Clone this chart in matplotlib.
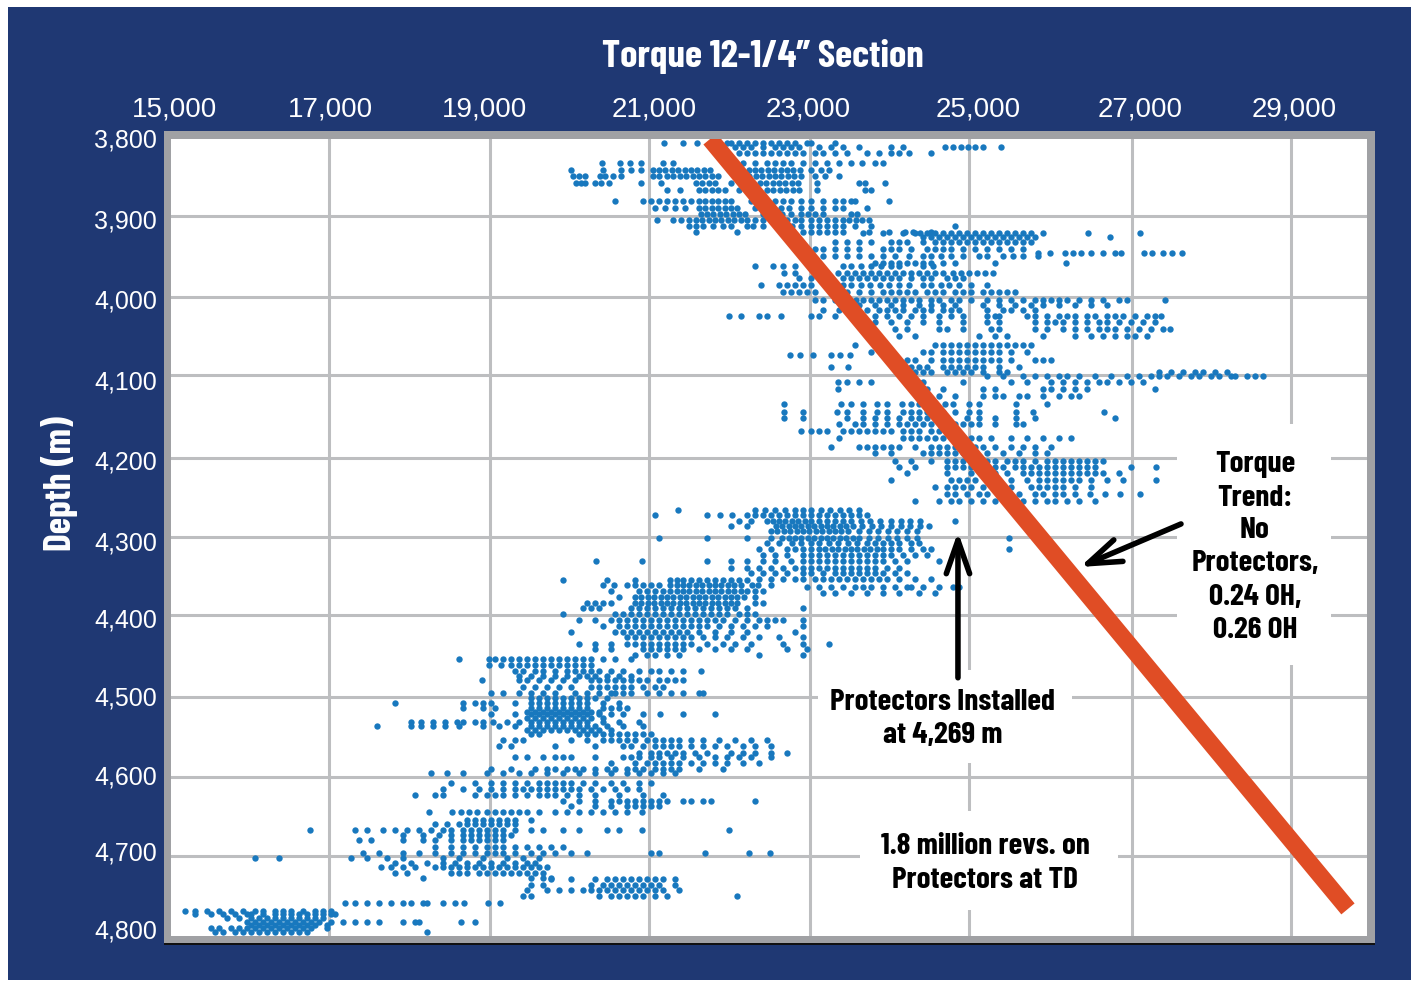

import matplotlib

matplotlib.use("Agg")
import matplotlib.pyplot as plt  # noqa: E402
from matplotlib.patches import Rectangle  # noqa: E402
from matplotlib.transforms import ScaledTranslation  # noqa: E402

X_TICKS = [15000, 16975, 18988, 20975, 22988, 24975, 27012, 29000]
X_LABELS = ["15,000", "17,000", "19,000", "21,000", "23,000", "25,000", "27,000", "29,000"]
Y_TICKS = [3800, 3897, 3998, 4096, 4200, 4299, 4397, 4500, 4600, 4700, 4800]
Y_LABELS = ["3,800", "3,900", "4,000", "4,100", "4,200", "4,300", "4,400", "4,500", "4,600", "4,700", "4,800"]

TREND_TORQUE = [21738, 29712]
TREND_DEPTH = [3800, 4766]

# Each band: one list of depths, one list of torque rows read at those depths.
TOP_DEPTHS = [3805, 3810, 3818, 3830, 3839, 3846, 3855, 3864, 3878, 3887, 3894, 3902, 3909, 3917]
TOP_TORQUES = [
    [21160, 21400, 21575, 21950, 22000, 22100, 22200, 22300, 22400, 22500, 22600, 22700, 22800, 22950, 23000, 23300],
    [22050, 22150, 22250, 22400, 22550, 22650, 22750, 22850, 23100, 23250, 23400, 23600, 24000, 24150, 24680, 24780, 24870, 24960, 25050, 25150, 25370],
    [22100, 22200, 22300, 22400, 22500, 22600, 22700, 22800, 22900, 23050, 23150, 23300, 23450, 23700, 23850, 24000, 24100, 24230, 24500],
    [20390, 20610, 20740, 20870, 21150, 21280, 22050, 22150, 22300, 22450, 22550, 22650, 22750, 22900, 23050, 23200, 23350, 23500, 23640, 23800, 23900],
    [20000, 20400, 20620, 20750, 20880, 21030, 21100, 21180, 21260, 21340, 21420, 21500, 21580, 21660, 21740, 21980, 22060, 22140, 22220, 22300, 22380, 22460, 22540, 22620, 22700, 22780, 22860, 23000, 23120, 23220],
    [20030, 20100, 20170, 20360, 20430, 20520, 20620, 21030, 21100, 21200, 21280, 21360, 21440, 21520, 21600, 21680, 21760, 21840, 22150, 22230, 22310, 22390, 22470, 22550, 22630, 22710, 22790, 22870, 23050, 23180, 23350],
    [20060, 20120, 20180, 20300, 20380, 20470, 20880, 21130, 21560, 21640, 21720, 21800, 22000, 22280, 22360, 22440, 22520, 22600, 22680, 22760, 22840, 23080, 23600, 23670, 23920],
    [21200, 21360, 21600, 21680, 21760, 21840, 21920, 22100, 22300, 22450, 22530, 22610, 22690, 22770, 22850, 23080, 23670, 23750],
    [20550, 20900, 21000, 21100, 21200, 21300, 21400, 21500, 21600, 21680, 21760, 21840, 21920, 22000, 22250, 22450, 22550, 22650, 22750, 22880, 23000, 23150, 23300, 23400, 23500, 23550, 23980],
    [21050, 21180, 21300, 21420, 21600, 21680, 21760, 21840, 21920, 22000, 22080, 22300, 22500, 22620, 22720, 22880, 23000, 23150, 23300, 23400, 23700],
    [21620, 21700, 21780, 21860, 21940, 22020, 22100, 22180, 22400, 22640, 22750, 22880, 22960, 23050, 23150, 23500, 23580],
    [21080, 21280, 21380, 21480, 21560, 21640, 21720, 21800, 21880, 21960, 22040, 22120, 22200, 22300, 22400, 22500, 22600, 22700, 22800, 22880, 23000, 23100, 23200, 23300, 23400, 23480, 23560, 23640, 23720],
    [21480, 21560, 21650, 21780, 21900, 22000, 22200, 22280, 22400, 22640, 22760, 22880, 23000, 23100, 23200, 23300, 23400, 23550, 23750, 24800],
    [21560, 22080, 22680, 22780, 22900, 23000, 23100, 23200, 23300, 23400, 23720, 23980, 24180, 24280, 24500],
]

UPPER_DEPTHS = [3918, 3923, 3929, 3938, 3943, 3947, 3955, 3959, 3968, 3975, 3983, 3992, 4002, 4008, 4014, 4022, 4030, 4038, 4047, 4058, 4067, 4071, 4077, 4086, 4092, 4097]
UPPER_TORQUES = [
    [23650, 23900, 24150, 24300, 24360, 24450, 24550, 24650, 24750, 24850, 24950, 25050, 25150, 25250, 25350, 25450, 25550, 25650, 25750, 25900, 26460, 27110],
    [24400, 24500, 24600, 24700, 24800, 24900, 25000, 25100, 25200, 25300, 25400, 25500, 25600, 25700, 25800, 26740],
    [23300, 23450, 23600, 23750, 24000, 24100, 24200, 24400, 24550, 24650, 24750, 24850, 24950, 25050, 25150, 25250, 25350, 25450, 25550, 25650, 25750],
    [23050, 23150, 23300, 23450, 23600, 23900, 24000, 24100, 24250, 24450, 24550, 24650, 24750, 24900, 25050, 25200, 25350, 25500, 25650],
    [25840, 25990, 26180, 26270, 26370, 26500, 26650, 26800, 26870, 27160, 27260, 27400, 27510, 27640],
    [23150, 23300, 23450, 23600, 23750, 23900, 24050, 24230, 24400, 24500, 24620, 24750, 24900, 25100, 25200, 25400, 25520, 25650, 25840],
    [23800, 23900, 24000, 24100, 24200, 24300, 24400, 24500, 24650, 24800, 25300, 26190],
    [22300, 22530, 22650, 22800, 23400, 23500, 23620, 23750, 23880, 24000, 24100, 24400, 24520],
    [22660, 22800, 23340, 23450, 23550, 23650, 23750, 23850, 23950, 24050, 24150, 24250, 24350, 24450, 24550, 24650, 24780, 24880, 24980, 25080, 25180, 25280],
    [22850, 23000, 23400, 23500, 23600, 23700, 23800, 23900, 24000, 24100, 24250, 24400, 24500, 24700, 24800, 24900],
    [22380, 22600, 22700, 22800, 22900, 23000, 23400, 23500, 23620, 23740, 23860, 23980, 24100, 24220, 24400, 24500, 24620, 24720, 24850, 25000, 25200],
    [22650, 22750, 22850, 22950, 23050, 23300, 23450, 23600, 23750, 23900, 24000, 24100, 24200, 24300, 24450, 24550, 24650, 24800, 24900, 25000, 25150, 25250, 25350, 25450, 25550],
    [23050, 23150, 23300, 23560, 23650, 23750, 23850, 23950, 24050, 24150, 24250, 24350, 24500, 24600, 24750, 24850, 25000, 25200, 25350, 25500, 25650, 25800, 25900, 26000, 26100, 26200, 26350, 26500, 26650, 26850, 26950, 27420],
    [23400, 23600, 23800, 24000, 24150, 24350, 24500, 24650, 24800, 25150, 25350, 25550, 25750, 25900, 26100, 26300, 26500, 26700],
    [23150, 23350, 23500, 23700, 23850, 23950, 24050, 24150, 24300, 24400, 24500, 24650, 24750, 24850, 25200, 25400, 25500, 25650, 25800],
    [21980, 22130, 22350, 22450, 22620, 23000, 23100, 23300, 23600, 23800, 23950, 24100, 24250, 24400, 24600, 24750, 24900, 25200, 25300, 25350, 25700, 25800, 25950, 26100, 26200, 26300, 26450, 26550, 26700, 26800, 26900, 27050, 27200, 27300, 27380],
    [23800, 24000, 24200, 24400, 24600, 24900, 25200, 25350, 25800, 25950, 26050, 26150, 26300, 26450, 26600, 26700, 26850, 27000, 27150, 27300],
    [24050, 24200, 24600, 24700, 24900, 25250, 25350, 25800, 25950, 26150, 26300, 26450, 26600, 26700, 26800, 26950, 27100, 27250, 27400, 27490],
    [24100, 24300, 25100, 25300, 25450, 25900, 26300, 26500, 26650, 26800, 26950, 27050, 27200],
    [23550, 24550, 24650, 24750, 24850, 24950, 25050, 25150, 25250, 25350, 25450, 25550, 25650, 25750],
    [23750, 24400, 24500, 24650, 24750, 24850, 24950, 25050, 25150, 25250, 25350, 25500, 25700],
    [22740, 22860, 23030, 23250, 23360, 23490],
    [24200, 24300, 24500, 24650, 24750, 24850, 24950, 25050, 25150, 25250, 25350, 25500, 25800, 25900, 26000],
    [23250, 23460, 24150, 24250, 24350, 24450, 24650, 24750, 24850, 24950, 25050, 25150, 25350, 25600],
    [24300, 24400, 24500, 24700, 24800, 24900, 25000, 25150, 25350, 25450, 27350, 27500, 27650, 27800, 27900, 28050, 28200],
    [25200, 25400, 25650, 25800, 25950, 26100, 26200, 26350, 26550, 26750, 26950, 27100, 27250, 27350, 27450, 27600, 27750, 27850, 28000, 28100, 28250, 28300, 28450, 28550, 28650],
]

MIDDLE_DEPTHS = [4105, 4114, 4122, 4133, 4142, 4150, 4158, 4166, 4175, 4186, 4194, 4204, 4212, 4219, 4228, 4237, 4245, 4254]
MIDDLE_TORQUES = [
    [23340, 23450, 23600, 23750, 24300, 24400, 24900, 25500, 25700, 26000, 26150, 26300, 26450, 26600, 26700, 26850, 27000, 27150],
    [23340, 24350, 24450, 24650, 25150, 25300, 25900, 26000, 26150, 26300, 26450, 27300],
    [24600, 24800, 25150, 25300, 25400, 25600, 25700, 25900, 26100, 26250, 26350],
    [22660, 23370, 23500, 23650, 23820, 23950, 24140, 24250, 24350, 24450, 24550, 24680, 24780, 24980, 25100, 25560, 25950],
    [22660, 22900, 23330, 23450, 23650, 23820, 23950, 24150, 24250, 24350, 24450, 24550, 24650, 24800, 24980, 25100, 25560, 25770, 26660],
    [22660, 22900, 23450, 23650, 23800, 23950, 24100, 24250, 24350, 24450, 24600, 24700, 24950, 25100, 25300, 25560, 25800, 26800],
    [23350, 23550, 23650, 23800, 23950, 24100, 24200, 24300, 24400, 24500, 24650, 24800, 24900, 25000, 25100, 25300, 25560, 25650],
    [22880, 23000, 23100, 23200, 23400, 23500, 23600, 23700, 23800, 23900, 24000, 24150, 24250, 24350, 24500, 24600, 24700, 24800],
    [23350, 24150, 24250, 24350, 24450, 24550, 24650, 24750, 24900, 25000, 25100, 25250, 25500, 25700, 25900, 26100, 26250],
    [23250, 23600, 23700, 23800, 23900, 24000, 24100, 24300, 24500, 24600, 24700, 24800, 24900, 25050, 25150, 25300, 25500, 25650, 25800, 26000],
    [23800, 24000, 24400, 24500, 24600, 24700, 24800, 24900, 25000, 25200, 25400, 25600, 25800, 25950],
    [24050, 24250, 24500, 24700, 24800, 24900, 25000, 25100, 25200, 25300, 25450, 25550, 25650, 25800, 25950, 26050, 26150, 26250, 26350, 26450, 26550, 26650],
    [24100, 24300, 24700, 24800, 24900, 25000, 25100, 25200, 25300, 25400, 25550, 25650, 25750, 25850, 25950, 26050, 26150, 26250, 26350, 26450, 26550, 27000, 27310],
    [24200, 24700, 25000, 25150, 25300, 25450, 25650, 25750, 25850, 25950, 26050, 26150, 26250, 26350, 26450, 26550, 26650, 26850],
    [24000, 24750, 24850, 24950, 25050, 25200, 25350, 25500, 25700, 25850, 25950, 26050, 26150, 26250, 26350, 26500, 26700, 26900, 27310],
    [24550, 24700, 24800, 24900, 25000, 25150, 25300, 25500, 25750, 25850, 25950, 26050, 26150, 26300, 26500],
    [24700, 24800, 24950, 25100, 25200, 25400, 25600, 25800, 25900, 26050, 26150, 26300, 26490, 26680, 26860, 27110],
    [24300, 24600, 24750, 24850, 25000, 25150, 25300, 25450, 25650, 25800, 25950, 26050, 26200, 26350, 26550],
]

BREAK_DEPTHS = [4265, 4272, 4279, 4285, 4292, 4300, 4307, 4314, 4322, 4330, 4338, 4345, 4352, 4362, 4370]
BREAK_TORQUES = [
    [21340, 22300, 22420, 22550, 22680, 22800, 22900, 23000, 23120, 23240, 23360, 23480, 23600],
    [21050, 21700, 21860, 22010, 22200, 22300, 22400, 22500, 22600, 22700, 22800, 22900, 23000, 23100, 23200, 23300, 23400, 23500, 23600, 23700],
    [22100, 22250, 22450, 22520, 22600, 22680, 22760, 22840, 22920, 23000, 23100, 23200, 23300, 23400, 23500, 23620, 23740, 23860, 24000, 24120, 24240, 24360, 24800],
    [22000, 22200, 22560, 22640, 22720, 22800, 22880, 22960, 23040, 23120, 23200, 23280, 23360, 23440, 23520, 23640, 23760, 23880, 24000, 24120, 24240, 24360, 24480],
    [22500, 22580, 22660, 22740, 22820, 22900, 22980, 23060, 23140, 23220, 23300, 23380, 23460, 23600, 23720, 23840, 23960, 24080, 24200, 24320],
    [21100, 21700, 22200, 22500, 22640, 22720, 22800, 22880, 22960, 23040, 23120, 23200, 23280, 23360, 23440, 23520, 23600, 23720, 23840, 23960, 24080, 24200, 24320, 25480],
    [22450, 22600, 22760, 22880, 23000, 23100, 23220, 23340, 23460, 23580, 23700, 23800, 23900, 24000, 24100, 24250, 24350],
    [22350, 22500, 22700, 22800, 22900, 23000, 23100, 23180, 23260, 23340, 23420, 23500, 23580, 23660, 23740, 23820, 23900, 24000, 24100, 24250, 24400, 24500, 25480],
    [22400, 22550, 22700, 22900, 23000, 23100, 23200, 23300, 23400, 23500, 23600, 23700, 23800, 23900, 24000, 24150, 24300, 24450],
    [20310, 20890, 21700, 22000, 22200, 22400, 22550, 22750, 22900, 23000, 23100, 23200, 23300, 23400, 23500, 23600, 23700, 23800, 23900, 24050, 24200, 24600],
    [22000, 22200, 22350, 22500, 22650, 22800, 22900, 23000, 23100, 23200, 23300, 23400, 23500, 23600, 23700, 23800, 23950, 24100],
    [22250, 22400, 22550, 22700, 22900, 23000, 23150, 23300, 23400, 23500, 23600, 23700, 23800, 23900, 24050, 24200],
    [22350, 22500, 22650, 22800, 22900, 23050, 23150, 23250, 23350, 23450, 23550, 23650, 23750, 23850, 23950, 24100, 24300, 24500],
    [22950, 23100, 23250, 23400, 23550, 23650, 23750, 23900, 24050, 24200, 24250, 24400, 24600, 24770, 24850],
    [23150, 23300, 23500, 23700, 23900, 24100, 24350, 24550],
]

LOWER_DEPTHS = [4353, 4360, 4367, 4375, 4382, 4389, 4396, 4404, 4411, 4418, 4425, 4433, 4440, 4447]
LOWER_TORQUES = [
    [19900, 20450, 20800, 21240, 21320, 21400, 21500, 21600, 21700, 21800, 21900, 22000, 22100, 22200],
    [20400, 20540, 20700, 20800, 20900, 21000, 21100, 21240, 21320, 21400, 21480, 21560, 21640, 21720, 21800, 21880, 21960, 22040, 22120, 22260, 22340, 22500],
    [20500, 20850, 20950, 21050, 21150, 21240, 21320, 21400, 21480, 21560, 21640, 21720, 21800, 21880, 21960, 22040, 22120, 22200, 22300, 22400],
    [20600, 20800, 20880, 20960, 21040, 21120, 21200, 21280, 21360, 21440, 21520, 21600, 21680, 21760, 21840, 21920, 22000, 22080, 22160, 22300],
    [20200, 20300, 20400, 20500, 20800, 20880, 20960, 21040, 21120, 21200, 21280, 21360, 21440, 21520, 21600, 21680, 21760, 21840, 21920, 22000, 22080, 22300, 22400],
    [20150, 20250, 20350, 20750, 20850, 20950, 21050, 21150, 21250, 21350, 21450, 21550, 21650, 21750, 21850, 21950, 22050, 22200, 22900],
    [19900, 20550, 20650, 20750, 20850, 20950, 21050, 21150, 21250, 21350, 21450, 21550, 21650, 21750, 21850, 21950, 22100, 22200, 22300],
    [20100, 20300, 20500, 20600, 20700, 20800, 20900, 21000, 21100, 21200, 21300, 21400, 21500, 21600, 21700, 21800, 21900, 22050, 22200, 22350, 22450, 22550, 22650, 22900],
    [20400, 20600, 20700, 20800, 20900, 21000, 21100, 21200, 21300, 21400, 21500, 21600, 21700, 21850, 22000, 22150, 22300, 22450, 22900],
    [20000, 20550, 20650, 20750, 20850, 20950, 21050, 21150, 21250, 21350, 21450, 21600, 21800, 22000, 22200, 22800],
    [20700, 20800, 20900, 21000, 21100, 21200, 21300, 21400, 21500, 21650, 21800, 21950, 22150, 22350, 22600, 22900],
    [20100, 20300, 20500, 20700, 20800, 20900, 21000, 21100, 21200, 21300, 21400, 21500, 21700, 21900, 22050, 22250, 22650, 22900, 23220],
    [20300, 20500, 20900, 21000, 21100, 21200, 21300, 21400, 21600, 21800, 22000, 22200, 22700, 22950],
    [20800, 20950, 21050, 21200, 21350, 22350, 22900],
]

MID_LOW_DEPTHS = [4452, 4460, 4468, 4474, 4479, 4487, 4495, 4502, 4508, 4514, 4519, 4522, 4526, 4531, 4537, 4542, 4546, 4554, 4562, 4571, 4575, 4583, 4590, 4596]
MID_LOW_TORQUES = [
    [18970, 19050, 19150, 19250, 19350, 19450, 19550, 19650, 19750, 19850, 19950, 20050, 20150, 20250, 20400, 20550, 20750, 18600],
    [18970, 19130, 19250, 19350, 19450, 19550, 19650, 19750, 19850, 19950, 20050, 20150, 20250],
    [19300, 19400, 19550, 19650, 19800, 19950, 20050, 20150, 20250, 20350, 20500, 20650, 20850, 21000, 21100, 21250, 21400, 21630],
    [19350, 19500, 19650, 19800, 19950, 20100, 20200, 20300, 20450, 20600, 20750],
    [18890, 19350, 19450, 19600, 19750, 19900, 20050, 20250, 20350, 20450, 20550, 20650, 20750, 20850, 20950, 21100, 21200, 21300, 21400],
    [19400, 19550, 19700, 19850, 20000, 20250, 20350, 20450, 20550, 20650, 20750, 20900, 21050, 21150],
    [19000, 19150, 19350, 19500, 19650, 19800, 20050, 20200, 20350, 20500, 20550, 20650, 20750, 20950, 21100, 21250, 21400, 21600, 21650],
    [19500, 19600, 19700, 19800, 19900, 20000, 20100, 20200, 20300, 20450],
    [17800, 18650, 18800, 18900, 19000, 19300, 19500, 19600, 19700, 19800, 19900, 20000, 20100, 20200, 20400, 20600],
    [18650, 18900, 19050, 19500, 19600, 19700, 19800, 19900, 20000, 20100, 20200, 20400, 20500, 20600, 20700],
    [19450, 19550, 19650, 19750, 19850, 19950, 20050, 20150, 20250, 20350],
    [19000, 19300, 19500, 19600, 19700, 19800, 19900, 20000, 20100, 20200, 20350, 20500, 20650, 20900, 21110, 21400, 21800],
    [19450, 19550, 19650, 19750, 19850, 19950, 20050, 20150, 20250, 20400],
    [18000, 18130, 18270, 18430, 18570, 18650, 18800, 18900, 19030, 19200, 19350, 19500, 19600, 19700, 19800, 19900, 20000, 20100, 20200, 20400, 20600, 20850],
    [17570, 18000, 18130, 18270, 18430, 18600, 18900, 19100, 19300, 19500, 19600, 19700, 19800, 19900, 20000, 20100, 20200, 20300, 20450, 20650, 20900],
    [19450, 19550, 19650, 19750, 19850, 19950, 20050, 20150, 20250, 20350, 20500],
    [19500, 19600, 20100, 20200, 20300, 20400, 20500, 20600, 20700, 20800, 20900, 21000],
    [19150, 19300, 19400, 20000, 20200, 20400, 20500, 20600, 20700, 20800, 20950, 21050, 21150, 21250, 21350, 21500, 21650, 21850, 22050, 22250, 22450],
    [19100, 19250, 19800, 20300, 20650, 20750, 20900, 21050, 21150, 21250, 21350, 21500, 21650, 21800, 21950, 22150, 22300, 22500],
    [20850, 21000, 21100, 21200, 21300, 21400, 21550, 21700, 22000, 22150, 22300, 22500, 22700],
    [19300, 19450, 19650, 19800, 19900, 20000, 20300, 20650, 20750, 20850, 21000, 21100, 21250, 21400, 21600, 21800, 21950, 22100, 22250, 22500],
    [20500, 20800, 20950, 21050, 21150, 21250, 21350, 21500, 21650, 21800, 21950, 22150, 22350],
    [19000, 19250, 19550, 19700, 19800, 19950, 20050, 20150, 20300, 20450, 20550, 20700, 20800, 20900, 21050, 21150, 21250, 21350, 21600, 21900],
    [18250, 18450, 18650, 18950, 19150, 19350, 19500, 19700, 19900, 20100, 20300, 20500, 20700, 20850, 21000, 21150, 21300],
]

DEEP_DEPTHS = [4608, 4616, 4623, 4631, 4637, 4645, 4654, 4660, 4667, 4673, 4679, 4688, 4696, 4702, 4708, 4713, 4721, 4727]
DEEP_TORQUES = [
    [18500, 18800, 19000, 19150, 19300, 19450, 19600, 19700, 19800, 19900, 20000, 20150, 20300, 20500, 20650, 20850, 21000],
    [18400, 18650, 18850, 19000, 19150, 19300, 19400, 19500, 19600, 19700, 19800, 19900, 20000, 20100, 20250, 20400, 20550, 20700, 20850],
    [18050, 18300, 18400, 18800, 18950, 19050, 19150, 19300, 19450, 19600, 19700, 19800, 19950, 20100, 20300, 20600, 20900, 21150],
    [19900, 20100, 20300, 20500, 20600, 20700, 20800, 20900, 21000, 21100, 21200, 21400, 21500, 21650, 21750, 22300],
    [20000, 20300, 20500, 20700, 20800, 20900, 21000, 21100],
    [18220, 18517, 18620, 18720, 18820, 18950, 19050, 19150, 19250, 19350, 19450, 19600, 19800, 19950, 20100, 20250, 20400, 20550, 20700, 20890],
    [18700, 18800, 18900, 19000, 19100, 19200, 19300, 19500],
    [18300, 18450, 18600, 18700, 18800, 18900, 19000, 19100, 19200, 19300],
    [16740, 17300, 17450, 17650, 17800, 17950, 18100, 18250, 18400, 18500, 18650, 18750, 18850, 18950, 19050, 19150, 19300, 19500, 19650, 19900, 20100, 20450, 20600, 20890, 21975],
    [17900, 18150, 18350, 18500, 18650, 18750, 18850, 18950, 19050, 19150, 19250],
    [17350, 17500, 17900, 18150, 18300, 18500, 18650, 18750, 18850, 18950, 19050, 19150],
    [18300, 18500, 18650, 18800, 18950, 19050, 19150, 19300, 19450, 19600, 19750, 19900],
    [17400, 17600, 17900, 18100, 18300, 18500, 18650, 18800, 18950, 19050, 19150, 19300, 19500, 19650, 19800, 20000, 20200, 21000, 21100, 21680, 22220, 22490],
    [16050, 16350, 17250, 17450, 17700, 17900, 18400, 18600, 18900, 19200, 19400, 19600],
    [17800, 18000, 18200, 18400, 18550, 18700, 18850, 19000, 19150, 19300, 19450, 19550],
    [17630, 17750, 17900, 18050, 18300, 18400, 18500, 18600, 18700, 18800, 18900, 19000, 19100, 19200, 19300, 19400, 19500, 19600, 19700],
    [17800, 17950, 18500, 18600, 18700, 18850, 18950, 19050, 19150, 19250, 19350, 19450, 19550, 19650],
    [18150, 19500, 19650, 19750],
]

BOTTOM_DEPTHS = [4729, 4736, 4742, 4750, 4759, 4769, 4773, 4778, 4782, 4786, 4790, 4795]
BOTTOM_TORQUES = [
    [19750, 20000, 20300, 20450, 20550, 20650, 20750, 20850, 20950, 21050, 21150, 21300],
    [19500, 19650, 20250, 20400, 20500, 20600, 20700, 20800, 20900, 21000, 21100, 21300],
    [19450, 19700, 19850, 20000, 20150, 20250, 20350, 20450, 20550, 20650, 20750, 20850, 20950, 21050, 21150, 21350],
    [19400, 19500, 20350, 20500, 20600, 20700, 20800, 20900, 21050, 21200, 22080],
    [17180, 17300, 17450, 17600, 17750, 17900, 18000, 18150, 18200, 18400, 18550, 18660, 18960, 19110],
    [15180, 15300, 15450, 15600, 15750, 15900, 16050, 16150, 16300, 16400, 16500, 16650, 16800, 16900, 17000],
    [15300, 15500, 15650, 15800, 15950, 16000, 16150, 16300, 16400, 16500, 16600, 16700, 16800, 16900, 17000, 17050],
    [15700, 15850, 16000, 16100, 16200, 16300, 16400, 16500, 16600, 16700, 16800, 16900],
    [15950, 16050, 16150, 16250, 16350, 16450, 16550, 16650, 16750, 16850, 17000, 17150, 17300, 17450, 17600, 17900, 18050, 18100, 18620, 18800],
    [16000, 16100, 16200, 16300, 16400, 16500, 16600, 16700, 16800, 16950],
    [15500, 15600, 15750, 15850, 15950, 16050, 16150, 16250, 16350, 16450, 16550, 16650, 16750, 16950],
    [15550, 15650, 15800, 15900, 16000, 16100, 16200, 16300, 16400, 16500, 16600, 16700, 18200],
]

BANDS = [
    (TOP_DEPTHS, TOP_TORQUES),
    (UPPER_DEPTHS, UPPER_TORQUES),
    (MIDDLE_DEPTHS, MIDDLE_TORQUES),
    (BREAK_DEPTHS, BREAK_TORQUES),
    (LOWER_DEPTHS, LOWER_TORQUES),
    (MID_LOW_DEPTHS, MID_LOW_TORQUES),
    (DEEP_DEPTHS, DEEP_TORQUES),
    (BOTTOM_DEPTHS, BOTTOM_TORQUES),
]

NAVY = "#1F3873"
GREY = "#A0A1A4"
W, H = 1411, 981
plt.rcParams["font.family"] = ["Liberation Sans", "DejaVu Sans"]
BOLD = ["Barlow Condensed", "Liberation Sans", "DejaVu Sans"]


def fx(px):
    return px / W


def fy(py):
    return 1 - py / H


def fig_rect(x0, y0, x1, y1, color, zorder=-5):
    return Rectangle((fx(x0), fy(y1)), (x1 - x0) / W, (y1 - y0) / H, transform=fig.transFigure,
                     facecolor=color, edgecolor="none", zorder=zorder)


fig = plt.figure(figsize=(W / 100, H / 100), dpi=100, facecolor="white")
fig.add_artist(fig_rect(8, 7, 1411, 980, NAVY))
fig.add_artist(fig_rect(164, 943, 1375, 945, "#111111"))
fig.add_artist(fig_rect(164, 131, 1375, 943, GREY))

ax = fig.add_axes([fx(171), fy(936), (1367 - 171) / W, (936 - 139) / H], facecolor="white")
ax.set_xlim(15000, 29950)
ax.set_ylim(4800, 3800)
for s in ax.spines.values():
    s.set_visible(False)

ax.xaxis.tick_top()
ax.set_xticks(X_TICKS, X_LABELS)
ax.set_yticks(Y_TICKS, Y_LABELS)
ax.tick_params(axis="x", length=0, pad=12, labelsize=20, labelcolor="white")
ax.tick_params(axis="y", length=0, pad=10, labelsize=18, labelcolor="white")
ax.set_axisbelow(True)
ax.grid(True, color="#BDBEC0", linewidth=2.2)
ax.xaxis.get_gridlines()[0].set_visible(False)
ax.yaxis.get_gridlines()[0].set_visible(False)
ax.yaxis.get_gridlines()[-1].set_visible(False)

# tick labels sit a little off their gridlines in the original
for lab, dx in zip(ax.get_xticklabels(), [4, 1, -6, 5, -2, 9, 8, 3]):
    lab.set_transform(lab.get_transform() + ScaledTranslation(dx / 100, 0, fig.dpi_scale_trans))
for lab, dy in zip(ax.get_yticklabels(), [1, -3, -2, -5, -2, -4, -3, 1, 2, 5, 7]):
    lab.set_transform(lab.get_transform() + ScaledTranslation(0, dy / 100, fig.dpi_scale_trans))

# white boxes knock the grid out behind the notes
for x0, y0, x1, y1 in [(1177, 424, 1331, 665), (818, 670, 1072, 763), (860, 811, 1118, 910)]:
    ax.add_patch(fig_rect(x0, y0, x1, y1, "white", zorder=1))

for depths, torques in BANDS:
    for depth, row in zip(depths, torques):
        ax.scatter(row, [depth] * len(row), s=21, color="#1878BE", linewidths=0, zorder=2)

ax.plot(TREND_TORQUE, TREND_DEPTH, color="#E04D25", linewidth=12.4, solid_capstyle="butt", zorder=3)

arrow = dict(arrowstyle="->,head_length=1.2,head_width=0.42", color="black", lw=4,
             mutation_scale=20, shrinkA=0, shrinkB=0)
ax.annotate("", xy=(24837, 4293), xytext=(24837, 4476), arrowprops=arrow, zorder=4)
ax.annotate("", xy=(26362, 4337), xytext=(27625, 4283), arrowprops=arrow, zorder=4)

notes = [
    (1255, [464, 498, 531, 564, 597, 630], ["Torque", "Trend:", "No", "Protectors,", "0.24 OH,", "0.26 OH"]),
    (943, [702, 736], ["Protectors Installed", "at 4,269 m"]),
    (985, [847, 880], ["1.8 million revs. on", "Protectors at TD"]),
]
for cx, ys, lines in notes:
    for py, line in zip(ys, lines):
        fig.text(fx(cx), fy(py), line, ha="center", va="center", color="black", fontsize=22.5,
                 family=BOLD, fontweight="bold", zorder=6)

fig.text(fx(763), fy(57), "Torque 12-1/4” Section", ha="center", va="center", color="white",
         fontsize=28, family=BOLD, fontweight="bold")
fig.text(fx(60), fy(484), "Depth (m)", ha="center", va="center", rotation=90, color="white",
         fontsize=27, family=BOLD, fontweight="bold")

fig.savefig("out.png", dpi=100)
plt.close(fig)
